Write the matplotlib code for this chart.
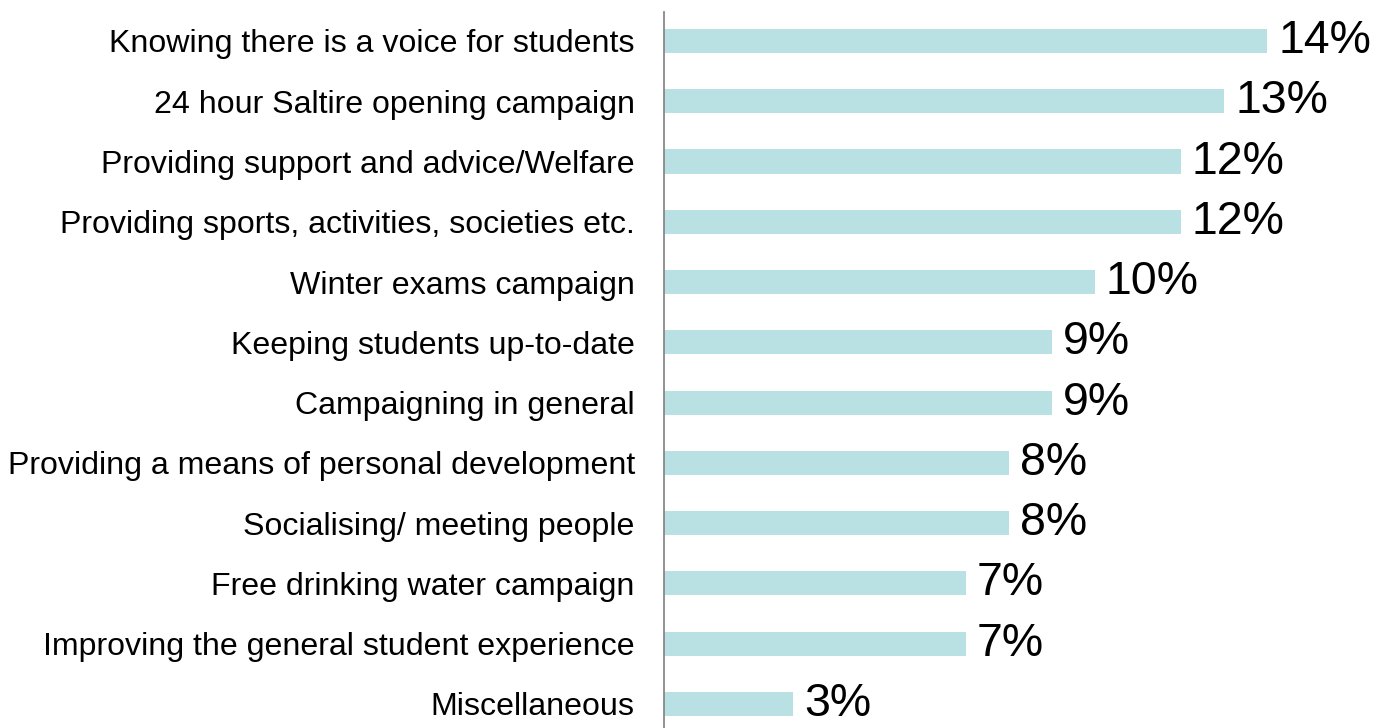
import matplotlib.pyplot as plt

categories = [
    "Knowing there is a voice for students",
    "24 hour Saltire opening campaign",
    "Providing support and advice/Welfare",
    "Providing sports, activities, societies etc.",
    "Winter exams campaign",
    "Keeping students up-to-date",
    "Campaigning in general",
    "Providing a means of personal development",
    "Socialising/ meeting people",
    "Free drinking water campaign",
    "Improving the general student experience",
    "Miscellaneous",
]
values = [14, 13, 12, 12, 10, 9, 9, 8, 8, 7, 7, 3]
value_labels = ["14%", "13%", "12%", "12%", "10%", "9%", "9%", "8%", "8%", "7%", "7%", "3%"]

plt.rcParams['font.family'] = ['Liberation Sans', 'DejaVu Sans']

fig = plt.figure(figsize=(13.76, 7.28), dpi=100)
ax = fig.add_axes([664 / 1376, 0, 1 - 664 / 1376, 1])

pos = list(range(len(categories)))
ax.barh(pos, values, height=0.4, color='#b9e1e4')

for p, v, lab in zip(pos, values, value_labels):
    ax.text(v + 0.25, p, lab, va='center', ha='left', fontsize=33.5, color='black')

ax.set_xlim(0, 16.52)
ax.set_ylim(11.40, -0.68)
ax.set_yticks(pos)
ax.set_yticklabels(categories, fontsize=23.1)
ax.tick_params(axis='y', length=0, pad=21)
ax.set_xticks([])

for s in ['top', 'right', 'bottom']:
    ax.spines[s].set_visible(False)
ax.spines['left'].set_color('#888888')
ax.spines['left'].set_linewidth(1.3)
ax.spines['left'].set_bounds(-0.48, 11.40)

fig.savefig('out.png', dpi=100)
